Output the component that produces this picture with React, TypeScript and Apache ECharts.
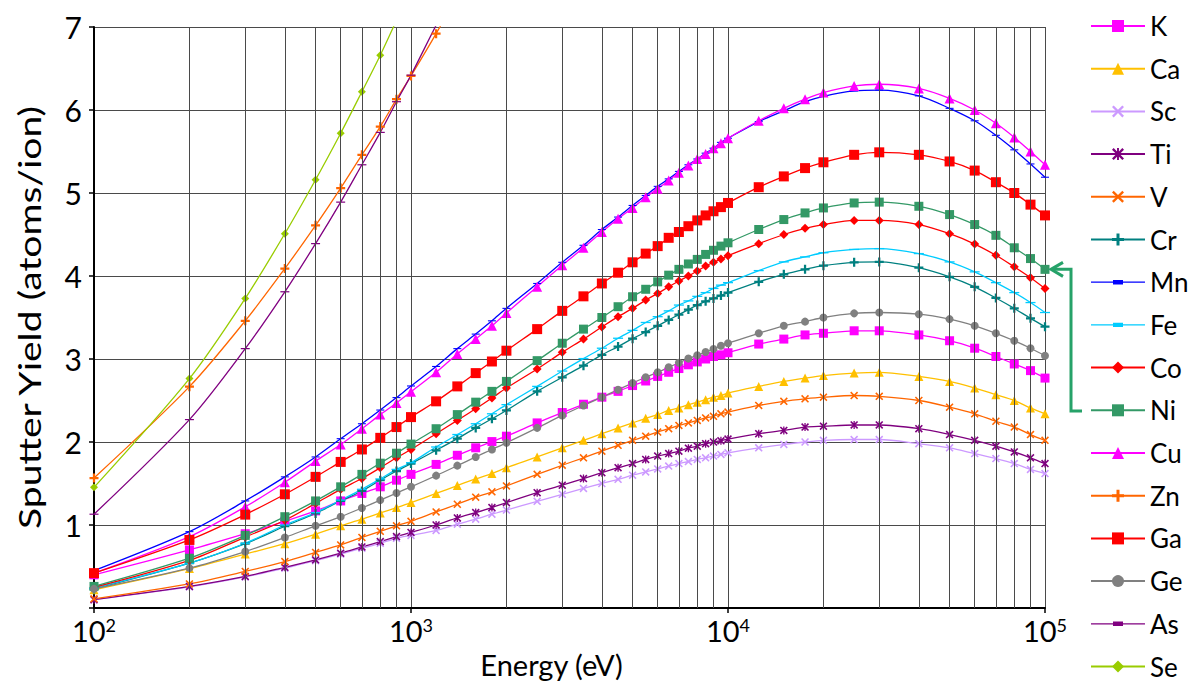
import React, { useEffect, useRef } from "react";
import * as echarts from "echarts";

// Energies (eV)
const energies = [100, 200, 300, 400, 500, 600, 700, 800, 900, 1000, 1200, 1400, 1600, 1800, 2000, 2500, 3000, 3500, 4000, 4500, 5000, 5500, 6000, 6500, 7000, 7500, 8000, 8500, 9000, 9500, 10000, 12500, 15000, 17500, 20000, 25000, 30000, 40000, 50000, 60000, 70000, 80000, 90000, 100000];

// Sputter yields (atoms/ion)
const K = [0.40, 0.70, 0.895, 1.045, 1.17, 1.29, 1.38, 1.46, 1.54, 1.61, 1.73, 1.84, 1.93, 2.005, 2.07, 2.23, 2.355, 2.455, 2.54, 2.61, 2.68, 2.735, 2.79, 2.84, 2.885, 2.93, 2.965, 3.0, 3.03, 3.05, 3.075, 3.18, 3.24, 3.29, 3.31, 3.34, 3.34, 3.29, 3.22, 3.13, 3.03, 2.94, 2.86, 2.77];
const Ca = [0.22, 0.475, 0.65, 0.775, 0.89, 0.99, 1.07, 1.145, 1.21, 1.27, 1.38, 1.475, 1.555, 1.62, 1.69, 1.82, 1.93, 2.02, 2.10, 2.17, 2.23, 2.285, 2.33, 2.38, 2.41, 2.45, 2.48, 2.51, 2.54, 2.56, 2.59, 2.67, 2.73, 2.77, 2.80, 2.83, 2.84, 2.79, 2.73, 2.65, 2.57, 2.50, 2.41, 2.34];
const Sc = [0.10, 0.255, 0.375, 0.48, 0.57, 0.65, 0.72, 0.78, 0.84, 0.875, 0.935, 1.01, 1.07, 1.13, 1.18, 1.285, 1.37, 1.44, 1.50, 1.55, 1.60, 1.64, 1.675, 1.71, 1.74, 1.765, 1.79, 1.81, 1.83, 1.85, 1.87, 1.93, 1.97, 2.0, 2.02, 2.03, 2.03, 1.98, 1.93, 1.86, 1.80, 1.74, 1.67, 1.62];
const Ti = [0.10, 0.26, 0.38, 0.49, 0.58, 0.66, 0.735, 0.80, 0.86, 0.91, 1.0, 1.085, 1.15, 1.21, 1.27, 1.39, 1.48, 1.56, 1.63, 1.69, 1.74, 1.79, 1.83, 1.86, 1.89, 1.925, 1.95, 1.98, 2.0, 2.015, 2.035, 2.10, 2.14, 2.18, 2.19, 2.205, 2.205, 2.16, 2.09, 2.02, 1.95, 1.88, 1.81, 1.74];
const V = [0.11, 0.29, 0.44, 0.56, 0.67, 0.76, 0.85, 0.924, 0.99, 1.045, 1.157, 1.25, 1.335, 1.40, 1.47, 1.61, 1.72, 1.81, 1.89, 1.96, 2.02, 2.07, 2.12, 2.16, 2.20, 2.23, 2.26, 2.29, 2.31, 2.34, 2.36, 2.44, 2.49, 2.52, 2.54, 2.56, 2.55, 2.50, 2.42, 2.34, 2.25, 2.18, 2.09, 2.02];
const Cr = [0.23, 0.54, 0.775, 0.985, 1.14, 1.29, 1.41, 1.54, 1.65, 1.74, 1.90, 2.04, 2.17, 2.28, 2.38, 2.61, 2.78, 2.92, 3.05, 3.15, 3.245, 3.325, 3.40, 3.47, 3.535, 3.595, 3.65, 3.695, 3.73, 3.765, 3.80, 3.93, 4.02, 4.08, 4.125, 4.165, 4.17, 4.10, 3.99, 3.87, 3.735, 3.61, 3.49, 3.39];
const Mn = [0.45, 0.92, 1.29, 1.58, 1.82, 2.04, 2.22, 2.385, 2.535, 2.675, 2.91, 3.125, 3.30, 3.46, 3.61, 3.91, 4.165, 4.37, 4.56, 4.71, 4.85, 4.97, 5.08, 5.17, 5.26, 5.34, 5.41, 5.48, 5.54, 5.61, 5.66, 5.86, 5.99, 6.10, 6.165, 6.23, 6.24, 6.17, 6.02, 5.87, 5.695, 5.52, 5.35, 5.19];
const Fe = [0.24, 0.54, 0.78, 1.0, 1.15, 1.30, 1.43, 1.555, 1.67, 1.75, 1.94, 2.09, 2.22, 2.34, 2.45, 2.67, 2.855, 3.005, 3.13, 3.25, 3.345, 3.44, 3.51, 3.58, 3.65, 3.70, 3.755, 3.80, 3.85, 3.89, 3.92, 4.065, 4.17, 4.23, 4.28, 4.32, 4.33, 4.27, 4.17, 4.05, 3.92, 3.80, 3.68, 3.56];
const Co = [0.25, 0.575, 0.855, 1.057, 1.26, 1.43, 1.56, 1.69, 1.81, 1.91, 2.10, 2.26, 2.40, 2.53, 2.65, 2.88, 3.08, 3.24, 3.385, 3.51, 3.61, 3.71, 3.79, 3.87, 3.94, 4.00, 4.06, 4.12, 4.165, 4.205, 4.245, 4.39, 4.50, 4.575, 4.62, 4.67, 4.67, 4.62, 4.51, 4.385, 4.25, 4.11, 3.98, 3.85];
const Ni = [0.26, 0.60, 0.875, 1.10, 1.29, 1.46, 1.61, 1.745, 1.865, 1.975, 2.16, 2.33, 2.48, 2.61, 2.73, 2.98, 3.19, 3.36, 3.50, 3.63, 3.75, 3.84, 3.93, 4.01, 4.08, 4.145, 4.20, 4.26, 4.31, 4.36, 4.40, 4.56, 4.68, 4.76, 4.82, 4.88, 4.89, 4.84, 4.74, 4.62, 4.49, 4.34, 4.21, 4.08];
const Cu = [0.42, 0.86, 1.22, 1.515, 1.77, 1.97, 2.16, 2.33, 2.47, 2.605, 2.84, 3.06, 3.24, 3.40, 3.555, 3.87, 4.13, 4.34, 4.53, 4.69, 4.82, 4.95, 5.05, 5.15, 5.245, 5.33, 5.41, 5.47, 5.54, 5.60, 5.66, 5.87, 6.02, 6.13, 6.21, 6.29, 6.31, 6.26, 6.14, 6.0, 5.84, 5.67, 5.50, 5.34];
const Zn = [1.566, 2.667, 3.46, 4.09, 4.61, 5.06, 5.46, 5.80, 6.13, 6.41, 6.92, 7.38];
const Ga = [0.42, 0.82, 1.125, 1.37, 1.58, 1.76, 1.91, 2.05, 2.18, 2.30, 2.49, 2.67, 2.83, 2.97, 3.10, 3.36, 3.58, 3.755, 3.91, 4.04, 4.165, 4.27, 4.36, 4.46, 4.53, 4.60, 4.67, 4.73, 4.78, 4.83, 4.88, 5.07, 5.20, 5.30, 5.37, 5.46, 5.49, 5.46, 5.38, 5.27, 5.13, 5.0, 4.86, 4.73];
const Ge = [0.23, 0.48, 0.68, 0.85, 0.99, 1.10, 1.205, 1.30, 1.385, 1.46, 1.595, 1.715, 1.82, 1.91, 1.99, 2.17, 2.32, 2.44, 2.54, 2.63, 2.71, 2.78, 2.84, 2.90, 2.955, 3.005, 3.045, 3.085, 3.12, 3.16, 3.19, 3.31, 3.40, 3.45, 3.50, 3.55, 3.56, 3.54, 3.48, 3.40, 3.31, 3.22, 3.13, 3.04];
const As = [1.13, 2.27, 3.125, 3.81, 4.39, 4.89, 5.34, 5.73, 6.10, 6.42, 7.02, 7.5];
const Se = [1.454, 2.764, 3.73, 4.51, 5.16, 5.72, 6.22, 6.66, 7.08, 7.45];

const elements = ["K", "Ca", "Sc", "Ti", "V", "Cr", "Mn", "Fe", "Co", "Ni", "Cu", "Zn", "Ga", "Ge", "As", "Se"];
const values: Record<string, number[]> = { K, Ca, Sc, Ti, V, Cr, Mn, Fe, Co, Ni, Cu, Zn, Ga, Ge, As, Se };

// Minor (non-decade) energy grid lines
const minorEnergies = [200, 300, 400, 500, 600, 700, 800, 900, 2000, 3000, 4000, 5000, 6000, 7000, 8000, 9000, 20000, 30000, 40000, 50000, 60000, 70000, 80000, 90000];
const yMin = 0;
const yMax = 7;
const xMin = 100;
const xMax = 100000;
const yTitle = "Sputter Yield (atoms/ion)";
const xTitle = "Energy (eV)";

const FONT = "Lato, 'Noto Sans', sans-serif";
const GRID = "#4a4a4a";

const X_SYM = "path://M0,1.4L1.4,0L5,3.6L8.6,0L10,1.4L6.4,5L10,8.6L8.6,10L5,6.4L1.4,10L0,8.6L3.6,5Z";
const STAR_SYM = "path://M0,1.4L1.4,0L5,3.6L8.6,0L10,1.4L6.4,5L10,8.6L8.6,10L5,6.4L1.4,10L0,8.6L3.6,5Z M4.2,0L5.8,0L5.8,10L4.2,10Z";
const PLUS_SYM = "path://M3,0L5,0L5,3L8,3L8,5L5,5L5,8L3,8L3,5L0,5L0,3L3,3Z";
const DASH_SYM = "path://M0,0L10,0L10,3.6L0,3.6Z";
// Legend icon: line with a dash marker in the middle (54 x 15 box)
const LEG_DASH = "path://M0,0L0.01,0Z M54,15L54.01,15Z M0,6.85L54,6.85L54,8.15L0,8.15Z M22,5.3L32,5.3L32,9.7L22,9.7Z";

const styles: Record<string, any> = {
  K: { color: "#FF00FF", symbol: "rect", size: 9 },
  Ca: { color: "#FFC000", symbol: "triangle", size: 9 },
  Sc: { color: "#CC99FF", symbol: X_SYM, size: 8 },
  Ti: { color: "#7F007F", symbol: STAR_SYM, size: 8 },
  V: { color: "#FF6600", symbol: X_SYM, size: 8 },
  Cr: { color: "#008080", symbol: PLUS_SYM, size: 9 },
  Mn: { color: "#0000FF", symbol: DASH_SYM, size: [8, 3], keep: true },
  Fe: { color: "#00CCFF", symbol: DASH_SYM, size: [10, 3.6], keep: true },
  Co: { color: "#FF0000", symbol: "diamond", size: 9 },
  Ni: { color: "#339966", symbol: "rect", size: 9 },
  Cu: { color: "#FF00FF", symbol: "triangle", size: 10 },
  Zn: { color: "#FF6600", symbol: PLUS_SYM, size: 9 },
  Ga: { color: "#FF0000", symbol: "rect", size: 10 },
  Ge: { color: "#808080", symbol: "circle", size: 8 },
  As: { color: "#800080", symbol: DASH_SYM, size: [9, 3.4], keep: true },
  Se: { color: "#99CC00", symbol: "diamond", size: 8 },
};

export default function App() {
  const ref = useRef<HTMLDivElement>(null);

  useEffect(() => {
    const chart = echarts.init(ref.current!, null, { renderer: "svg" });

    const series: any[] = elements.map((name) => {
      const st = styles[name];
      const vals = values[name];
      return {
        name,
        type: "line",
        smooth: 0.3,
        data: vals.map((v, i) => [energies[i], v]),
        symbol: st.symbol,
        symbolSize: st.size,
        symbolKeepAspect: !!st.keep,
        showAllSymbol: true,
        lineStyle: { color: st.color, width: 1.3 },
        itemStyle: { color: st.color },
        emphasis: { disabled: true },
        clip: true,
        z: 3,
      };
    });

    series.push({
      name: "__grid",
      type: "line",
      data: [],
      silent: true,
      z: 1,
      markLine: {
        silent: true,
        symbol: ["none", "none"],
        label: { show: false },
        animation: false,
        lineStyle: { color: GRID, width: 1, type: "solid" },
        emphasis: { disabled: true },
        data: minorEnergies.map((e) => ({ xAxis: e })),
      },
    });

    const legendData = elements.map((name) =>
      styles[name].keep ? { name, icon: LEG_DASH } : { name }
    );

    chart.setOption({
      animation: false,
      backgroundColor: "#ffffff",
      textStyle: { fontFamily: FONT },
      grid: { left: 94, right: 147, top: 27, bottom: 76, containLabel: false },
      legend: {
        data: legendData,
        orient: "vertical",
        left: 1090,
        top: 13,
        padding: 0,
        itemWidth: 54,
        itemHeight: 15,
        itemGap: 16.7,
        selectedMode: false,
        textStyle: { fontSize: 26, color: "#000", fontFamily: FONT, lineHeight: 26 },
      },
      xAxis: {
        type: "log",
        logBase: 10,
        min: xMin,
        max: xMax,
        name: xTitle,
        nameLocation: "middle",
        nameGap: 40,
        nameTextStyle: { fontSize: 29, color: "#000", fontFamily: FONT, padding: [0, 36, 0, 0] },
        axisLine: { show: true, lineStyle: { color: "#000", width: 2 } },
        axisTick: { show: true, length: 5, lineStyle: { color: "#000", width: 1.5 } },
        axisLabel: {
          margin: 8,
          formatter: (v: number) => `{b|10}{s|${Math.round(Math.log10(v))}}`,
          rich: {
            b: { fontSize: 29, color: "#000", fontFamily: FONT },
            s: { fontSize: 18, color: "#000", fontFamily: FONT, verticalAlign: "top" },
          },
        },
        splitLine: { show: true, lineStyle: { color: GRID, width: 1 } },
      },
      yAxis: {
        type: "value",
        min: yMin,
        max: yMax,
        interval: 1,
        axisLine: { show: true, lineStyle: { color: "#000", width: 2 } },
        axisTick: { show: true, length: 5, lineStyle: { color: "#000", width: 1.5 } },
        axisLabel: {
          margin: 12,
          fontSize: 30,
          color: "#000",
          fontFamily: FONT,
          formatter: (v: number) => (v === 0 ? "" : String(v)),
        },
        splitLine: { show: true, lineStyle: { color: GRID, width: 1 } },
      },
      series,
    });

    // Y-axis title (stretched along its length like the reference) and the Ni arrow
    const tip = chart.convertToPixel({ xAxisIndex: 0, yAxisIndex: 0 }, [energies[energies.length - 1], Ni[Ni.length - 1]]) as number[];
    const top = chart.convertToPixel({ yAxisIndex: 0 }, yMax) as number;
    const bottom = chart.convertToPixel({ yAxisIndex: 0 }, yMin) as number;
    const tx = tip[0] + 6;
    const ty = tip[1];
    const legendNiY = 411;
    const arrowColor = "#26A269";
    chart.setOption({
      graphic: [
        {
          type: "text",
          x: 29,
          y: (top + bottom) / 2,
          rotation: Math.PI / 2,
          scaleX: 1.3,
          style: {
            text: yTitle,
            fontSize: 30,
            fontFamily: FONT,
            fill: "#000",
            align: "center",
            verticalAlign: "middle",
          },
        },
        {
          type: "polyline",
          shape: { points: [[tx + 1, ty], [tx + 20, ty], [tx + 20, legendNiY], [tx + 31, legendNiY]] },
          style: { stroke: arrowColor, lineWidth: 3, fill: "none" },
          z: 10,
        },
        {
          type: "polyline",
          shape: { points: [[tx + 12, ty - 7], [tx, ty], [tx + 12, ty + 7]] },
          style: { stroke: arrowColor, lineWidth: 3, fill: "none" },
          z: 10,
        },
      ],
    });

    return () => chart.dispose();
  }, []);

  return <div ref={ref} style={{ position: "fixed", left: 0, top: 0, width: 1192, height: 684 }} />;
}
